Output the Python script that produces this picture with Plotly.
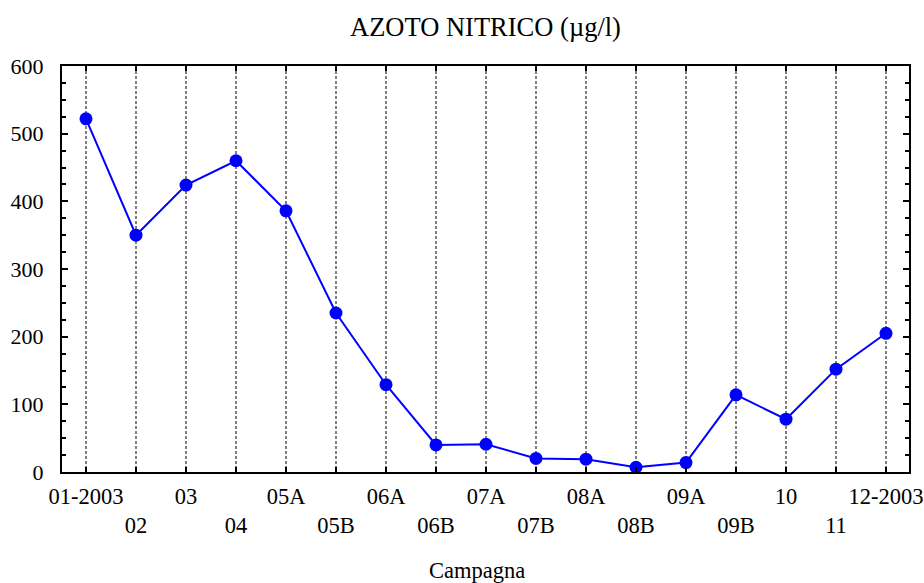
import plotly.graph_objects as go

categories = ["01-2003", "02", "03", "04", "05A", "05B", "06A", "06B", "07A",
              "07B", "08A", "08B", "09A", "09B", "10", "11", "12-2003"]
values = [522, 350, 424, 460, 386, 235, 129, 40, 41, 20, 19, 7, 14, 114, 78, 152, 205]
y_ticks = [0, 100, 200, 300, 400, 500, 600]

xpos = list(range(len(categories)))
ticktext = [c if i % 2 == 0 else "<br>" + c for i, c in enumerate(categories)]

FONT = "Liberation Serif, Times New Roman, serif"

fig = go.Figure()
fig.add_trace(go.Scatter(
    x=xpos, y=values, mode="lines+markers",
    line=dict(color="#0000FF", width=2),
    marker=dict(color="#0000FF", size=13),
    showlegend=False, cliponaxis=False,
))

fig.update_layout(
    width=924, height=583,
    margin=dict(l=62, r=15, t=66, b=111, autoexpand=False),
    paper_bgcolor="white", plot_bgcolor="white",
    font=dict(family=FONT, size=22, color="black"),
    title=dict(text="AZOTO NITRICO (µg/l)", x=485.5 / 924, xanchor="center",
               y=1 - 27 / 583, yanchor="middle",
               font=dict(family=FONT, size=26.5, color="black")),
    annotations=[dict(text="Campagna", x=(477 - 62) / 847, y=(472 - 570) / 406,
                      xref="paper", yref="paper", xanchor="center", yanchor="middle",
                      showarrow=False, font=dict(family=FONT, size=22.5, color="black"))],
)

fig.update_xaxes(
    range=[-0.48, 16.46], tickmode="array", tickvals=xpos, ticktext=ticktext,
    tickangle=0,
    ticks="inside", ticklen=5, tickwidth=1.5, tickcolor="black",
    showline=True, linecolor="black", linewidth=2, mirror="ticks",
    showgrid=True, gridcolor="#808080", gridwidth=1.5, griddash="3px,2px",
    zeroline=False, ticklabelstandoff=3, automargin=False,
    tickfont=dict(family=FONT, size=22.5, color="black"),
)
fig.update_yaxes(
    range=[0, 600], tickmode="array", tickvals=y_ticks,
    ticks="inside", ticklen=6, tickwidth=1.5, tickcolor="black",
    minor=dict(dtick=25, ticks="inside", ticklen=4, tickcolor="black", tickwidth=1.5, showgrid=False),
    showline=True, linecolor="black", linewidth=2, mirror="ticks",
    showgrid=False, zeroline=False, ticklabelstandoff=12, automargin=False,
    tickfont=dict(family=FONT, size=22, color="black"),
)

fig.write_html("out.html")
